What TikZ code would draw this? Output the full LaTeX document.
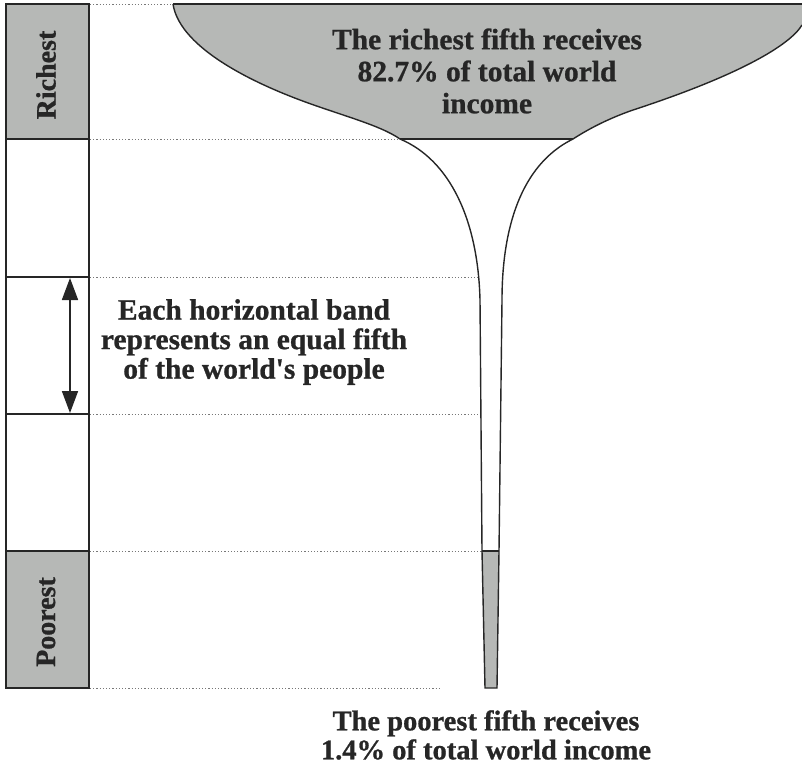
\documentclass[tikz,border=0pt]{standalone}
\usepackage{fontspec}
\setmainfont{Liberation Serif}[BoldFeatures={FakeBold=0.8}]
\usetikzlibrary{arrows.meta}
\definecolor{glassgrey}{RGB}{182,184,182}
\definecolor{ink}{RGB}{38,38,38}
\definecolor{dotgrey}{RGB}{120,120,120}
\tikzset{
  outline/.style={draw=ink, line width=1.4pt},
  bandline/.style={draw=dotgrey, line width=0.9pt, dash pattern=on 1.2pt off 2pt},
  colline/.style={draw=ink, line width=1.8pt},
  bigtext/.style={text=ink, font=\bfseries\fontsize{29.5}{31}\selectfont, align=center, inner sep=0pt},
  sidetext/.style={text=ink, font=\bfseries\fontsize{28}{30}\selectfont, rotate=90, inner sep=0pt},
}
\begin{document}
\begin{tikzpicture}[x=1pt,y=-1pt]
\useasboundingbox (0,0) rectangle (802,766);
% band levels
\coordinate (b0l) at (90,4);   \coordinate (b0r) at (173,4);
\coordinate (b1l) at (90,139); \coordinate (b1r) at (400,139);
\coordinate (b2l) at (90,277); \coordinate (b2r) at (478,277);
\coordinate (b3l) at (90,414); \coordinate (b3r) at (480,414);
\coordinate (b4l) at (90,551); \coordinate (b4r) at (482,551);
\coordinate (b5l) at (90,688); \coordinate (b5r) at (440,688);
\foreach \i in {0,...,5} \draw[bandline] (b\i l) -- (b\i r);
% left column
\fill[glassgrey] (6,4) rectangle (89,139);
\fill[glassgrey] (6,551) rectangle (89,688);
\draw[colline] (6,4) rectangle (89,688);
\foreach \y in {139,277,414,551} \draw[colline] (6,\y) -- (89,\y);
\node[sidetext] (rich) at (46,75) {Richest};
\node[sidetext] (poor) at (46,622) {Poorest};
% arrow
\coordinate (a1) at (70,278);
\coordinate (a2) at (70,413);
\draw[ink, line width=1.8pt, {Triangle[width=16pt,length=22pt]}-{Triangle[width=16pt,length=22pt]}] (a1) -- (a2);
% glass
\coordinate (tl) at (173,4);
\coordinate (tr) at (802,4);
\coordinate (er) at (802,25);
\coordinate (bl) at (400,139);
\coordinate (br) at (573,139);
\fill[glassgrey] (tl) -- (tr) -- (er)
  .. controls (790,45) and (740,75) .. (633,110)
  .. controls (610,118) and (590,128) .. (br) -- (bl)
  .. controls (380,125) and (340,115) .. (300,100)
  .. controls (260,85) and (180,50) .. (tl) -- cycle;
\draw[outline, line width=2pt] (tl) -- (tr);
\draw[outline] (tl) .. controls (180,50) and (260,85) .. (300,100)
  .. controls (340,115) and (380,125) .. (bl);
\draw[outline] (br) .. controls (590,128) and (610,118) .. (633,110)
  .. controls (740,75) and (790,45) .. (er);
\draw[outline] (bl) -- (br);
% stem
\fill[glassgrey] (482,551) -- (499,551) -- (497,688) -- (485,688) -- cycle;
\draw[outline] (bl) .. controls (450,160) and (478,220) .. (480,300) -- (482,551) -- (485,688) -- (497,688) -- (499,551) -- (502,300) .. controls (502,230) and (520,165) .. (br);
\draw[outline] (482,551) -- (499,551);
% texts
\node[bigtext, font=\bfseries\fontsize{29.5}{32}\selectfont] (richtext) at (487,71) {The richest fifth receives\\82.7\% of total world\\income};
\node[bigtext, font=\bfseries\fontsize{29.5}{29.5}\selectfont] (bandtext) at (254,342) {Each horizontal band\\represents an equal fifth\\of the world\textquotesingle s people};
\node[bigtext, font=\bfseries\fontsize{28.5}{29}\selectfont] (poortext) at (486,735) {The poorest fifth receives\\1.4\% of total world income};
\end{tikzpicture}
\end{document}
